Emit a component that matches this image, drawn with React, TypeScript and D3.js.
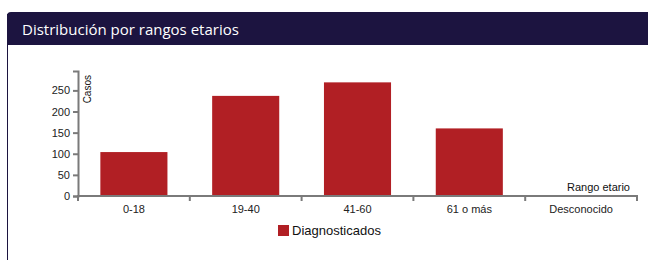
import React, { useEffect, useRef } from 'react';
import * as d3 from 'd3';

const categories = ['0-18', '19-40', '41-60', '61 o más', 'Desconocido'];
const diagnosticados = [104, 237, 269, 160, 0];
const yTicks = [0, 50, 100, 150, 200, 250];

const W = 648;
const H = 260;

export default function App() {
  const svgRef = useRef<SVGSVGElement>(null);

  useEffect(() => {
    if (!svgRef.current) return;
    const svg = d3.select(svgRef.current);
    svg.selectAll('*').remove();

    const left = 78, right = 637, top = 71, bottom = 196;

    // card frame + header
    svg.append('line')
      .attr('x1', 7.5).attr('x2', 7.5).attr('y1', 14).attr('y2', H)
      .attr('stroke', '#1c1440').attr('stroke-width', 1);
    svg.append('path')
      .attr('d', `M7,45V16Q7,12 11,12H${W}V45Z`)
      .attr('fill', '#1c1440');
    svg.append('text')
      .attr('x', 22).attr('y', 35)
      .attr('fill', '#ffffff')
      .style('font', '15px "Open Sans", sans-serif')
      .text('Distribución por rangos etarios');

    const x = d3.scaleBand<string>()
      .domain(categories)
      .range([left, right])
      .paddingInner(0.4)
      .paddingOuter(0.2);

    const y = d3.scaleLinear()
      .domain([0, (d3.max(diagnosticados) || 1) * 1.1])
      .range([bottom, top]);

    // bars
    svg.append('g')
      .selectAll('rect')
      .data(diagnosticados)
      .join('rect')
      .attr('x', (_, i) => x(categories[i])!)
      .attr('width', x.bandwidth())
      .attr('y', d => y(d))
      .attr('height', d => bottom - y(d))
      .attr('fill', '#b11f24');

    const axisColor = '#7a7a7a';
    const font = '11px "Liberation Sans", Arial, sans-serif';

    // y axis
    const yAxis = svg.append('g')
      .attr('transform', `translate(${left},0)`)
      .call(d3.axisLeft(y).tickValues(yTicks).tickSize(5).tickSizeOuter(5).tickPadding(3));
    yAxis.select('.domain').attr('stroke', axisColor).attr('stroke-width', 2);
    yAxis.selectAll('.tick line').attr('stroke', axisColor).attr('stroke-width', 2);
    yAxis.selectAll('.tick text').style('font', font).attr('fill', '#222');
    yAxis.append('text')
      .attr('transform', 'rotate(-90)')
      .attr('x', -top - 4)
      .attr('y', 6)
      .attr('dy', '.71em')
      .attr('text-anchor', 'end')
      .attr('fill', '#111')
      .style('font', '10px "Liberation Sans", Arial, sans-serif')
      .text('Casos');

    // x axis: ticks at band boundaries
    const xg = svg.append('g').attr('transform', `translate(0,${bottom})`);
    xg.append('path')
      .attr('d', `M${left},5V0H${right}V5`)
      .attr('fill', 'none')
      .attr('stroke', axisColor)
      .attr('stroke-width', 2);
    const bounds = categories.slice(1).map(c => x(c)! - x.step() * x.paddingInner() / 2);
    xg.selectAll('line.b')
      .data(bounds)
      .join('line')
      .attr('class', 'b')
      .attr('x1', d => d).attr('x2', d => d)
      .attr('y1', 0).attr('y2', 5)
      .attr('stroke', axisColor).attr('stroke-width', 2);
    xg.selectAll('text.lbl')
      .data(categories)
      .join('text')
      .attr('class', 'lbl')
      .attr('x', d => x(d)! + x.bandwidth() / 2)
      .attr('y', 17)
      .attr('text-anchor', 'middle')
      .attr('fill', '#222')
      .style('font', font)
      .text(d => d);
    xg.append('text')
      .attr('x', right - 7)
      .attr('y', -5)
      .attr('text-anchor', 'end')
      .attr('fill', '#111')
      .style('font', font)
      .text('Rango etario');

    // legend
    const lg = svg.append('g').attr('transform', 'translate(278,225)');
    lg.append('rect').attr('width', 11).attr('height', 11).attr('fill', '#b11f24');
    lg.append('text')
      .attr('x', 14).attr('y', 10)
      .attr('fill', '#111')
      .style('font', '13px "Liberation Sans", Arial, sans-serif')
      .text('Diagnosticados');
  }, []);

  return (
    <div style={{ position: 'absolute', left: 0, top: 0, width: W, height: H, background: '#fff' }}>
      <svg ref={svgRef} width={W} height={H} />
    </div>
  );
}
